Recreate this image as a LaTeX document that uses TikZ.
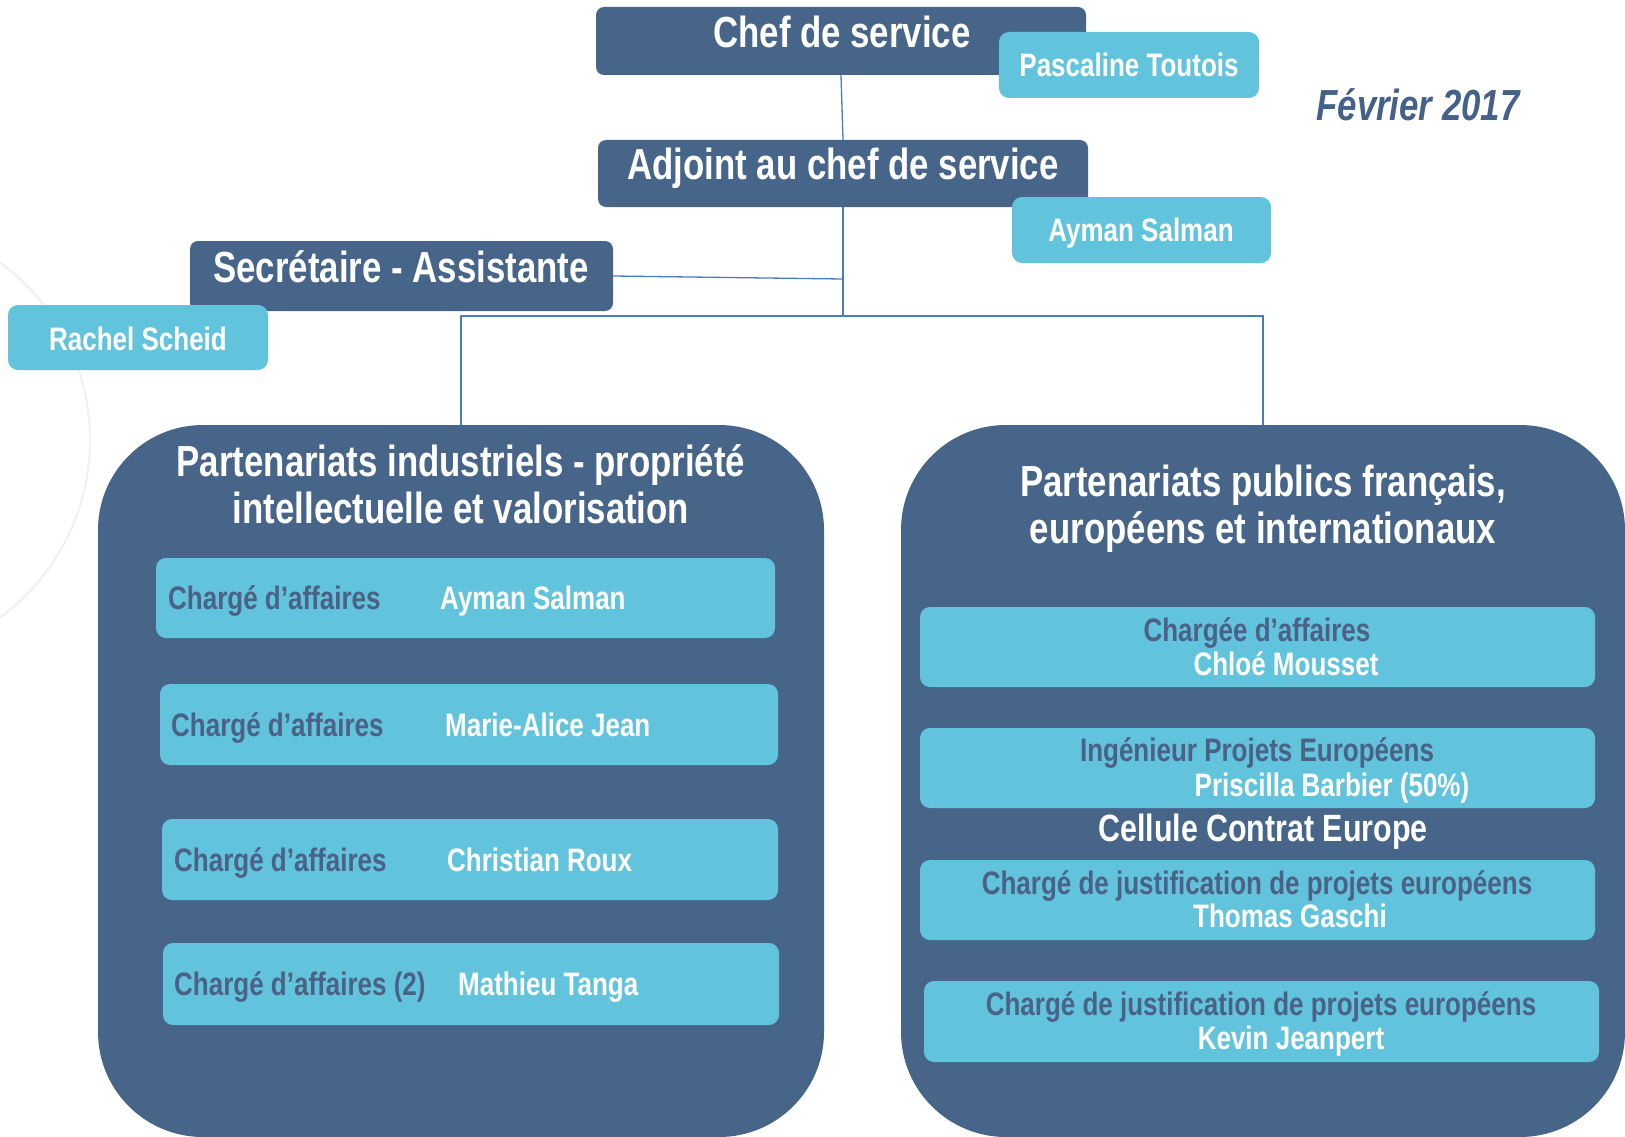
\documentclass[tikz,border=0pt]{standalone}
\usepackage{fontspec}
\setmainfont{Liberation Sans}[FakeStretch=0.8]
\usepackage{tikz}
\definecolor{boxdark}{HTML}{476589}
\definecolor{boxlight}{HTML}{62C3DD}
\definecolor{linkblue}{HTML}{4A7CC4}
\definecolor{slate}{HTML}{4B6185}
\definecolor{dateblue}{HTML}{44618A}

\begin{document}
\begin{tikzpicture}[x=1pt, y=-1pt,
		dark/.style = {fill=boxdark, rounded corners=8pt, inner sep=0pt},
		light/.style = {fill=boxlight, rounded corners=10pt, inner sep=0pt},
		pole/.style = {fill=boxdark, rounded corners=105pt, inner sep=0pt},
		big/.style = {text=white, inner sep=0pt, text height=31pt, text depth=0pt,
			font=\fontsize{43.5}{47}\selectfont\bfseries},
		small/.style = {text=white, inner sep=0pt, text height=23.3pt, text depth=0pt,
			font=\fontsize{32.5}{35}\selectfont\bfseries},
		link/.style = {draw=linkblue, line width=1.3pt}]
			\useasboundingbox (0, 0) rectangle (1625, 1137);

			% faint backdrop arc
			\draw[black!6, line width=2pt] (-130, 440) circle (220pt);

			% head of service
			\node[dark, minimum width=490pt, minimum height=68pt] (chef) at (841, 41) {};
			\node[big] (chef-t) at (842, 32) {Chef de service};
			\node[light, minimum width=260pt, minimum height=66pt] (chef-n) at (1129, 65) {};
			\node[small] (chef-nt) at (1129, 65) {Pascaline Toutois};
			\node[big, text=dateblue, font=\fontsize{43.5}{47}\selectfont\bfseries\itshape] (date) at (1418, 105) {Février 2017};

			% deputy
			\node[dark, minimum width=490pt, minimum height=67pt] (adj) at (843, 173.5) {};
			\node[big] (adj-t) at (843, 164) {Adjoint au chef de service};
			\node[light, minimum width=259pt, minimum height=66pt] (adj-n) at (1141.5, 230) {};
			\node[small] (adj-nt) at (1141, 230) {Ayman Salman};

			% secretary
			\node[dark, minimum width=423pt, minimum height=70pt] (secr) at (401.5, 276) {};
			\node[big] (secr-t) at (401, 267) {Secrétaire - Assistante};
			\node[light, minimum width=260pt, minimum height=65pt] (secr-n) at (138, 337.5) {};
			\node[small] (secr-nt) at (138, 339) {Rachel Scheid};

			% poles
			\node[pole, minimum width=726pt, minimum height=712pt] (indus) at (461, 781) {};
			\node[big] (indus-t1) at (461, 461) {Partenariats industriels - propriété};
			\node[big] (indus-t2) at (461, 508) {intellectuelle et valorisation};
			\node[pole, minimum width=724pt, minimum height=712pt] (publics) at (1263, 781) {};
			\node[big] (publics-t1) at (1263, 481) {Partenariats publics français,};
			\node[big] (publics-t2) at (1263, 528) {européens et internationaux};

			% connectors
			\coordinate (hub) at (843, 279);
			\coordinate (fork) at (843, 316);
			\draw[link] (chef.south) -- (adj.north);
			\draw[link] (adj.south) -- (fork);
			\draw[link] (secr.east) -- (hub);
			\draw[link] (indus.north) |- (fork) -| (publics.north);

			% industrial team
			\node[light, minimum width=619pt, minimum height=80pt] (ind1) at (465.5, 598) {};
			\node[small, text=slate, anchor=west] (ind1-r) at (168, 598) {Chargé d’affaires};
			\node[small, anchor=west] (ind1-n) at (440, 598) {Ayman Salman};
			\node[light, minimum width=618pt, minimum height=81pt] (ind2) at (469, 724.5) {};
			\node[small, text=slate, anchor=west] (ind2-r) at (171, 724.5) {Chargé d’affaires};
			\node[small, anchor=west] (ind2-n) at (445, 724.5) {Marie-Alice Jean};
			\node[light, minimum width=616pt, minimum height=81pt] (ind3) at (470, 859.5) {};
			\node[small, text=slate, anchor=west] (ind3-r) at (174, 859.5) {Chargé d’affaires};
			\node[small, anchor=west] (ind3-n) at (447, 859.5) {Christian Roux};
			\node[light, minimum width=616pt, minimum height=82pt] (ind4) at (471, 984) {};
			\node[small, text=slate, anchor=west] (ind4-r) at (174, 984) {Chargé d’affaires (2)};
			\node[small, anchor=west] (ind4-n) at (458, 984) {Mathieu Tanga};

			% public team
			\node[light, minimum width=675pt, minimum height=80pt] (pub1) at (1257.5, 647) {};
			\node[small, text=slate] (pub1-r) at (1257, 630) {Chargée d’affaires};
			\node[small] (pub1-n) at (1286, 664) {Chloé Mousset};
			\node[light, minimum width=675pt, minimum height=80pt] (pub2) at (1257.5, 768) {};
			\node[small, text=slate] (pub2-r) at (1257, 750) {Ingénieur Projets Européens};
			\node[small] (pub2-n) at (1332, 785) {Priscilla Barbier (50\%)};
			\node[big, text height=27.2pt, font=\fontsize{38}{41}\selectfont\bfseries] (cell) at (1263, 828) {Cellule Contrat Europe};
			\node[light, minimum width=675pt, minimum height=80pt] (pub3) at (1257.5, 900) {};
			\node[small, text=slate] (pub3-r) at (1257, 883) {Chargé de justification de projets européens};
			\node[small] (pub3-n) at (1290, 916) {Thomas Gaschi};
			\node[light, minimum width=675pt, minimum height=81pt] (pub4) at (1261.5, 1021.5) {};
			\node[small, text=slate] (pub4-r) at (1261, 1004) {Chargé de justification de projets européens};
			\node[small] (pub4-n) at (1291, 1038) {Kevin Jeanpert};
		\end{tikzpicture}
\end{document}
